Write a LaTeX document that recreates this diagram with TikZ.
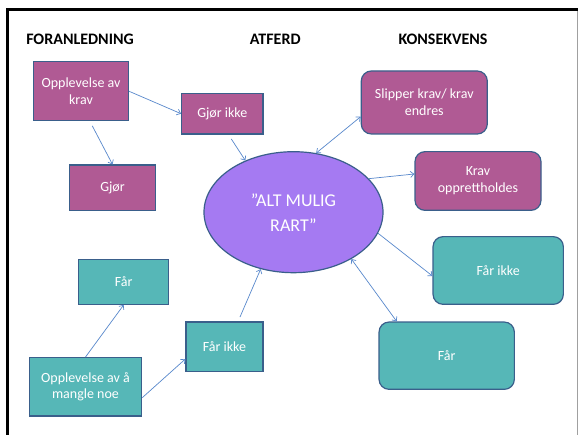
\documentclass[tikz,border=0pt]{standalone}
\usepackage{fontspec}
\setmainfont{Carlito}
\usetikzlibrary{arrows.meta,shapes.geometric,calc}
\definecolor{boxpurple}{RGB}{176,90,148}
\definecolor{boxteal}{RGB}{86,183,183}
\definecolor{ellpurple}{RGB}{165,122,242}
\definecolor{edgeblue}{RGB}{58,95,139}
\definecolor{arrowblue}{RGB}{88,136,204}
\definecolor{framegray}{RGB}{160,160,160}
\begin{document}
\begin{tikzpicture}[x=1pt,y=-1pt,
  header/.style={font=\fontsize{16}{19}\selectfont\bfseries, inner sep=0pt},
  basebox/.style={draw=edgeblue, line width=1.2pt, text=white, align=center, inner sep=0pt, font=\fontsize{14}{16.8}\selectfont},
  pbox/.style={basebox, fill=boxpurple},
  tbox/.style={basebox, fill=boxteal},
  rbox/.style={rounded corners=10pt},
  link/.style={draw=arrowblue, line width=0.7pt, -{Straight Barb[length=3.5pt,width=6pt]}},
  dlink/.style={draw=arrowblue, line width=0.7pt, {Straight Barb[length=3.5pt,width=6pt]}-{Straight Barb[length=3.5pt,width=6pt]}},
]
\useasboundingbox (0,0) rectangle (579,435);
\fill[white] (0,0) rectangle (579,435);
% frame
\draw[line width=3.3pt, line join=miter] (7.8,436) -- (7.8,9.3) -- (578,9.3);
\draw[framegray, line width=1pt] (577.7,11) -- (577.7,436);
% headers
\node[header] (hF) at (80,39.3) {FORANLEDNING};
\node[header] (hA) at (275.3,39.3) {ATFERD};
\node[header] (hK) at (443,39.3) {KONSEKVENS};
% boxes
\node[pbox, minimum width=94.6pt, minimum height=59pt] (opk) at (81,91.2) {Opplevelse av\\krav};
\node[pbox, minimum width=81.3pt, minimum height=40.7pt] (gji) at (222.3,113.7) {Gjør ikke};
\node[pbox, rbox, minimum width=126pt, minimum height=63pt] (sl) at (424.3,102.5) {Slipper krav/ krav\\endres};
\node[pbox, minimum width=85.7pt, minimum height=45.3pt] (gjor) at (112.5,187.7) {Gjør};
\node[pbox, rbox, minimum width=126pt, minimum height=58.7pt] (krav) at (478,181) {Krav\\opprettholdes};
\node[basebox, ellipse, fill=ellpurple, minimum width=179pt, minimum height=121pt, font=\fontsize{18}{25}\selectfont] (ell) at (293.5,212.2) {”ALT MULIG\\RART”};
\node[tbox, minimum width=90pt, minimum height=45pt] (farl) at (123.7,281.8) {Får};
\node[tbox, rbox, minimum width=130.3pt, minimum height=67.7pt] (fir) at (498.2,270.5) {Får ikke};
\node[tbox, minimum width=77pt, minimum height=49.7pt] (fim) at (224.5,346.8) {Får ikke};
\node[tbox, minimum width=112.3pt, minimum height=58.3pt] (mn) at (85.5,386.8) {Opplevelse av å\\mangle noe};
\node[tbox, rbox, minimum width=135.3pt, minimum height=67.3pt] (farr) at (446.7,355.7) {Får};
% connectors
\draw[link] (opk.east) -- (gji.west);
\draw[link] ([xshift=11.3pt,yshift=-4.6pt]opk.south) -- (gjor.north);
\draw[link] ([xshift=9pt,yshift=-4.3pt]gji.south) -- (ell.133);
\draw[dlink] (ell.69) -- ([yshift=-14.2pt]sl.west);
\draw[link] (ell.24) -- ([yshift=7pt]krav.west);
\draw[link] (ell.-14) -- ([yshift=-5.5pt]fir.west);
\draw[dlink] (ell.-39) -- ([xshift=-50pt]farr.north);
\draw[link] ([xshift=15.5pt,yshift=4.3pt]fim.north) -- (ell.-120);
\draw[link] (mn.north) -- (farl.south);
\draw[link] ([yshift=-10.9pt]mn.east) -- ([yshift=-12.2pt]fim.west);
\end{tikzpicture}
\end{document}
